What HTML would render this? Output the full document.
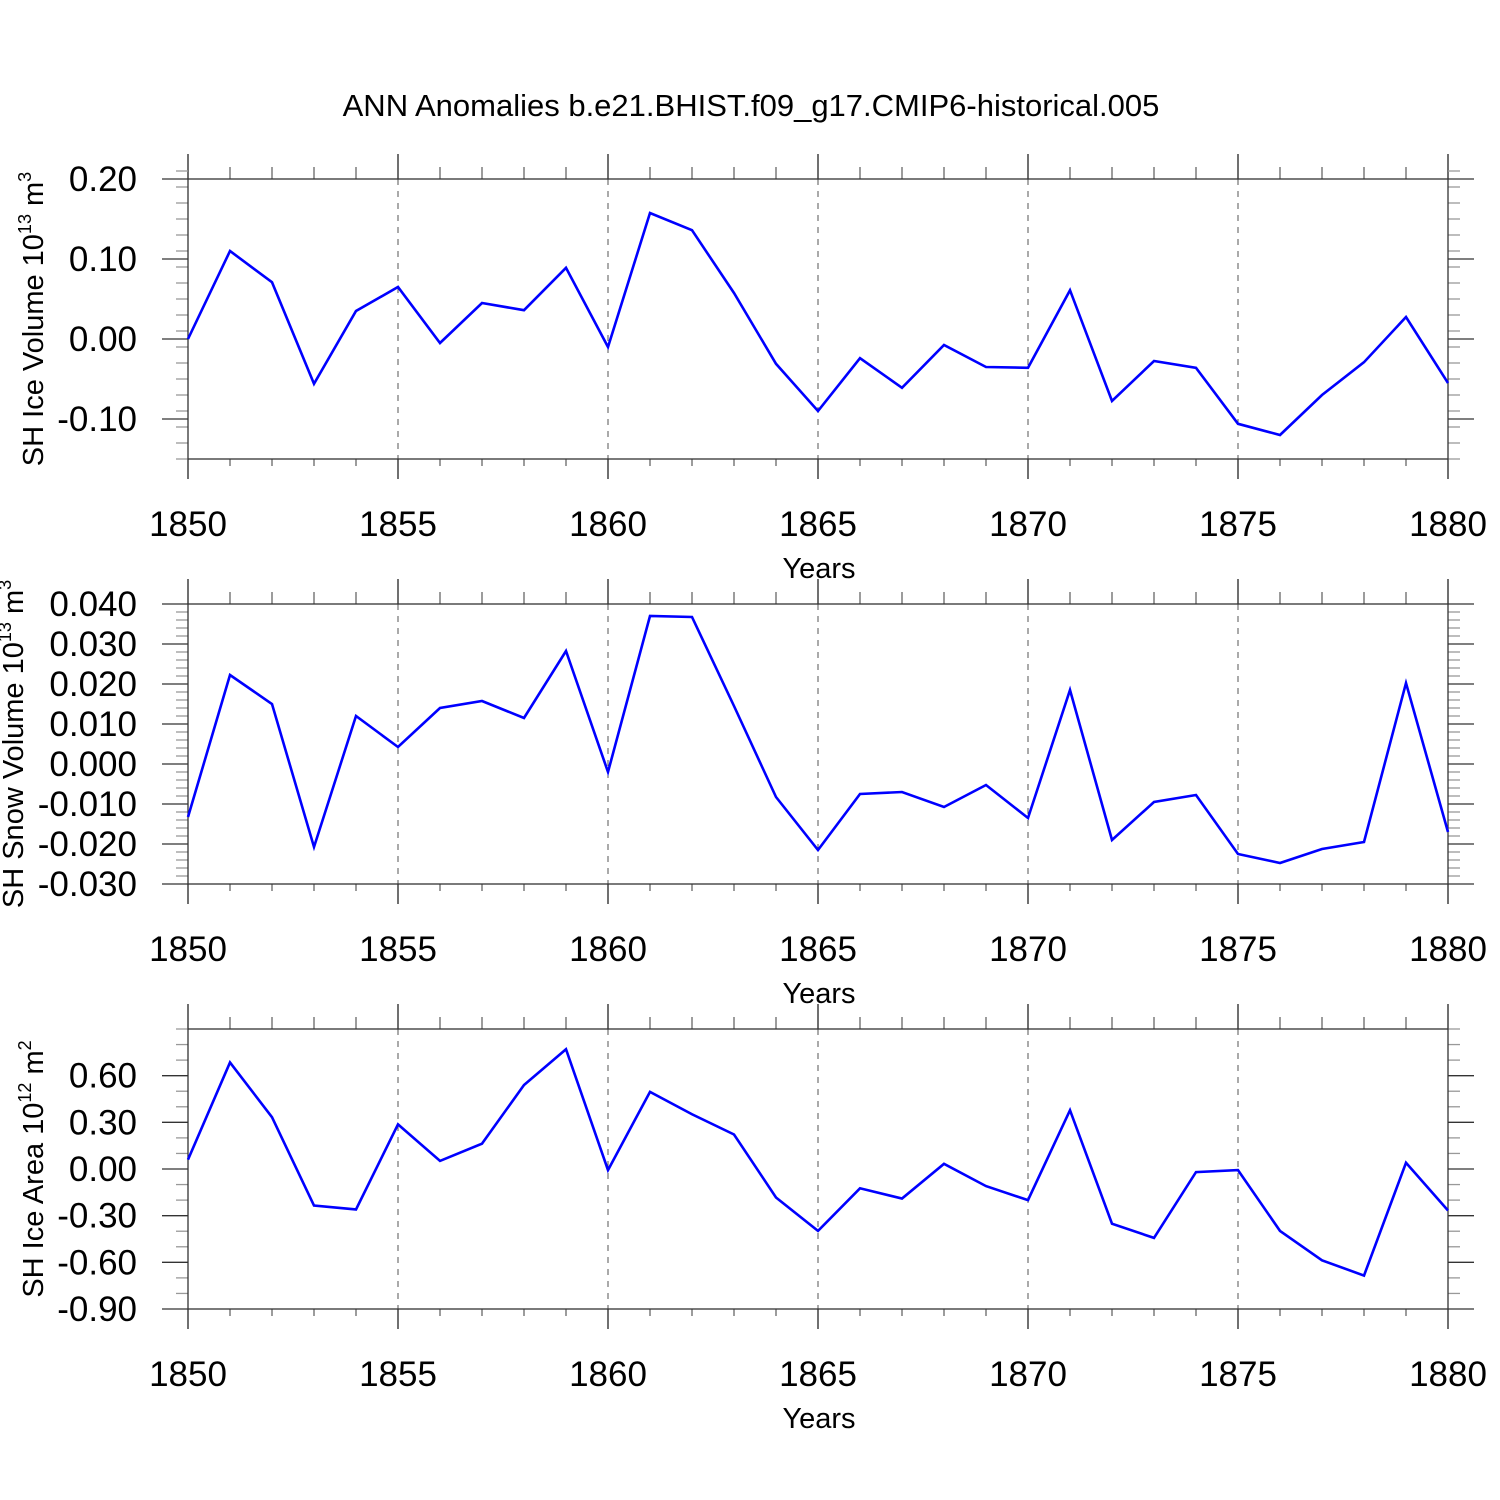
<!DOCTYPE html>
<html><head><meta charset="utf-8"><style>
html,body{margin:0;padding:0;background:#fff}
svg{display:block;font-family:"Liberation Sans",Arial,sans-serif}
</style></head><body>
<svg id="chart" width="1500" height="1500" viewBox="0 0 1500 1500" xmlns="http://www.w3.org/2000/svg">
<text x="751" y="116" text-anchor="middle" font-size="31" fill="#000">ANN Anomalies b.e21.BHIST.f09_g17.CMIP6-historical.005</text>
</svg>
<script>
const years = [1850,1851,1852,1853,1854,1855,1856,1857,1858,1859,1860,1861,1862,1863,1864,1865,1866,1867,1868,1869,1870,1871,1872,1873,1874,1875,1876,1877,1878,1879,1880];
const iceVolume = [0.00,0.110,0.071,-0.056,0.035,0.065,-0.005,0.045,0.036,0.089,-0.010,0.1575,0.136,0.0575,-0.031,-0.090,-0.024,-0.061,-0.0075,-0.035,-0.036,0.061,-0.0775,-0.0275,-0.036,-0.106,-0.120,-0.070,-0.029,0.0275,-0.055];
const snowVolume = [-0.01325,0.02225,0.015,-0.02075,0.012,0.00425,0.014,0.01575,0.0115,0.02825,-0.002,0.037,0.03675,0.0145,-0.00825,-0.0215,-0.0075,-0.007,-0.01075,-0.00525,-0.0135,0.0185,-0.019,-0.0095,-0.00775,-0.0225,-0.02475,-0.02125,-0.0195,0.02025,-0.017];
const iceArea = [0.06,0.685,0.333,-0.235,-0.26,0.287,0.052,0.163,0.54,0.77,-0.007,0.496,0.352,0.222,-0.183,-0.398,-0.124,-0.19,0.033,-0.11,-0.2,0.378,-0.352,-0.443,-0.02,-0.007,-0.398,-0.587,-0.685,0.04,-0.267];
const xTickLabels = ["1850","1855","1860","1865","1870","1875","1880"];
const volTicks = [-0.10,0.00,0.10,0.20];
const volTickLabels = ["-0.10","0.00","0.10","0.20"];
const snowTicks = [-0.03,-0.02,-0.01,0,0.01,0.02,0.03,0.04];
const snowTickLabels = ["-0.030","-0.020","-0.010","0.000","0.010","0.020","0.030","0.040"];
const areaTicks = [-0.9,-0.6,-0.3,0,0.3,0.6];
const areaTickLabels = ["-0.90","-0.60","-0.30","0.00","0.30","0.60"];

const NS="http://www.w3.org/2000/svg";
const svg=document.getElementById('chart');
function mk(tag,attrs,parent){const e=document.createElementNS(NS,tag);for(const k in attrs)e.setAttribute(k,attrs[k]);(parent||svg).appendChild(e);return e;}

const X0=188,X1=1448;
function xScale(yr){return X0+(yr-1850)/30*(X1-X0);}

function panel(name,top,ymin,ymax,ticks,labels,minorStep,values,ylabelParts,titleX){
  const bot=top+280;
  const g=mk('g',{});
  
  
  const ys=v=>bot-(v-ymin)/(ymax-ymin)*280;
  for(let yr=1855;yr<=1875;yr+=5){
    const l=mk('line',{x1:xScale(yr),x2:xScale(yr),y1:top,y2:bot,stroke:'#555','stroke-width':1,'stroke-dasharray':'6,6'},g);
    
    
  }
  for(let yr=1850;yr<=1880;yr++){
    const major=yr%5===0;const len=major?25:12;const x=xScale(yr);
    const c=major?'#222':'#666';
    const t1=mk('line',{x1:x,x2:x,y1:top-len,y2:top,stroke:c,'stroke-width':1.3},g);
    
    
    const t2=mk('line',{x1:x,x2:x,y1:bot,y2:bot+len-5,stroke:c,'stroke-width':1.3},g);
    
    
  }
  xTickLabels.forEach((lab,i)=>{
    const t=mk('text',{x:xScale(+lab),y:bot+77,'text-anchor':'middle','font-size':35,fill:'#000'},g);
    t.textContent=lab;
    
    
  });
  const xt=mk('text',{x:819,y:bot+119,'text-anchor':'middle','font-size':29,fill:'#000'},g);
  xt.textContent='Years';
  
  
  const nMin=Math.round((ymax-ymin)/minorStep);
  for(let i=0;i<=nMin;i++){
    const v=ymin+i*minorStep;const y=ys(v);
    const isMajor=ticks.some(t=>Math.abs(t-v)<minorStep/4);
    if(isMajor)continue;
    const a=mk('line',{x1:X0-12,x2:X0,y1:y,y2:y,stroke:'#999','stroke-width':1.3},g);
    
    
    const b=mk('line',{x1:X1,x2:X1+12,y1:y,y2:y,stroke:'#999','stroke-width':1.3},g);
    
    
  }
  ticks.forEach((v,i)=>{
    const y=ys(v);
    const a=mk('line',{x1:X0-26,x2:X0,y1:y,y2:y,stroke:'#333','stroke-width':1.3},g);
    
    
    const b=mk('line',{x1:X1,x2:X1+26,y1:y,y2:y,stroke:'#333','stroke-width':1.3},g);
    
    
    const t=mk('text',{x:137,y:y+12,'text-anchor':'end','font-size':35,fill:'#000'},g);
    t.textContent=labels[i];
    
    
  });
  const f=mk('rect',{x:X0,y:top,width:X1-X0,height:280,fill:'none',stroke:'#333','stroke-width':1.3},g);
  
  
  const cy=top+140;
  const yt=mk('text',{x:0,y:0,'text-anchor':'middle','font-size':29,fill:'#000',transform:`translate(${titleX},${cy}) rotate(-90)`},g);
  
  
  const s1=mk('tspan',{},yt);s1.textContent=ylabelParts[0];
  const s2=mk('tspan',{dy:-12,'font-size':18},yt);s2.textContent=ylabelParts[1];
  const s3=mk('tspan',{dy:12},yt);s3.textContent=' m';
  const s4=mk('tspan',{dy:-12,'font-size':18},yt);s4.textContent=ylabelParts[2];
  const pts=values.map((v,i)=>xScale(years[i])+','+ys(v)).join(' ');
  const p=mk('polyline',{points:pts,fill:'none',stroke:'#0000ff','stroke-width':2.6,'stroke-linejoin':'miter'},g);
  
  
}
panel('sh-ice-volume',179,-0.15,0.20,volTicks,volTickLabels,0.02,iceVolume,['SH Ice Volume 10','13','3'],43);
panel('sh-snow-volume',604,-0.03,0.04,snowTicks,snowTickLabels,0.002,snowVolume,['SH Snow Volume 10','13','3'],23);
panel('sh-ice-area',1029,-0.9,0.9,areaTicks,areaTickLabels,0.1,iceArea,['SH Ice Area 10','12','2'],43);
</script>
</body></html>
